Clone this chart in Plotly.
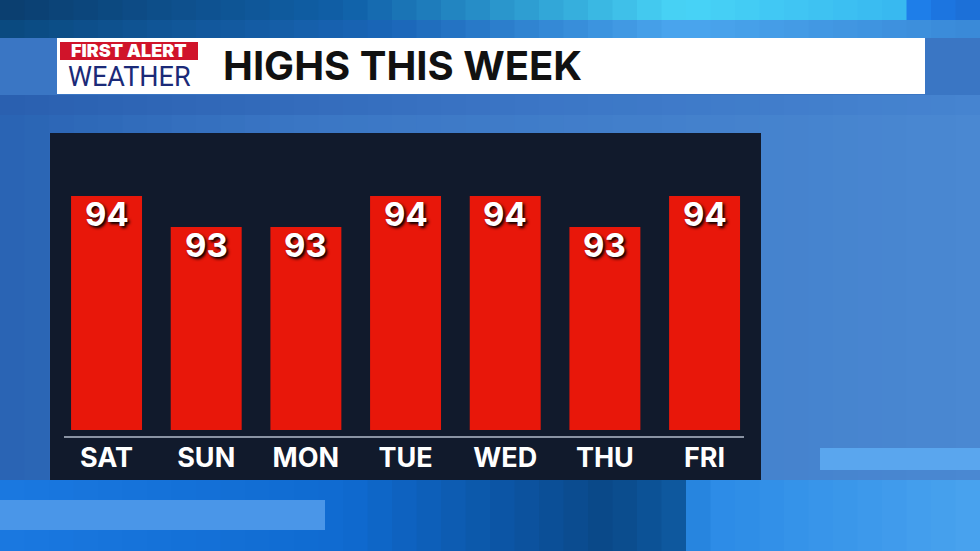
import plotly.graph_objects as go

# données
days = ['SAT', 'SUN', 'MON', 'TUE', 'WED', 'THU', 'FRI']
highs = [94, 93, 93, 94, 94, 93, 94]

W, H = 980, 551


def px_x(v):
    return v / W


def px_y(v):
    return (H - v) / H


def rect(x0, y0, x1, y1, color, layer='below'):
    return dict(type='rect', xref='paper', yref='paper',
                x0=px_x(x0), x1=px_x(x1), y0=px_y(y1), y1=px_y(y0),
                fillcolor=color, line_width=0, layer=layer)


def lerp_color(c1, c2, t):
    a = [int(c1[i:i + 2], 16) for i in (1, 3, 5)]
    b = [int(c2[i:i + 2], 16) for i in (1, 3, 5)]
    return '#' + ''.join('%02x' % round(a[k] + (b[k] - a[k]) * t) for k in range(3))


def gradient(x0, x1, y0, y1, stops, n=40):
    out = []
    step = (x1 - x0) / n
    for i in range(n):
        t = i / (n - 1)
        for j in range(len(stops) - 1):
            if stops[j][0] <= t <= stops[j + 1][0]:
                lt = (t - stops[j][0]) / (stops[j + 1][0] - stops[j][0])
                col = lerp_color(stops[j][1], stops[j + 1][1], lt)
                break
        out.append(rect(x0 + i * step, y0, x0 + (i + 1) * step + 0.6, y1, col))
    return out


shapes = []
# fond ciel
shapes += gradient(0, W, 95, 480, [(0, '#2a64b4'), (0.3, '#3a76c4'), (1, '#4a88d2')])
shapes += gradient(0, W, 95, 115, [(0, '#2a60b0'), (0.5, '#3a74c4'), (1, '#4684d0')])
# bande du haut
shapes += gradient(0, W, 0, 38, [(0, '#0b3f70'), (0.35, '#1060a8'), (0.7, '#48d4f6'),
                                 (0.93, '#38b8f0'), (0.95, '#1c7ae8'), (1, '#1c70d8')])
shapes += gradient(0, W, 20, 38, [(0, '#0a4a80'), (0.4, '#1a66b8'), (0.7, '#4aa6ee'),
                                  (1, '#3a8ad8')])
# bande du bas
shapes += gradient(0, W, 480, H, [(0, '#1a78e0'), (0.35, '#0f6ad0'), (0.62, '#0a4888'),
                                  (0.7, '#0e5aa0'), (0.72, '#2a8ae6'), (1, '#48a2ee')])
shapes.append(rect(0, 500, 325, 530, '#4a96e8'))
shapes.append(rect(820, 448, 980, 470, '#5aa6ee'))
# bandeau titre
shapes.append(rect(57, 38, 925, 94, '#ffffff'))
shapes.append(rect(60, 42, 198, 60, '#d0142a'))
# panneau sombre
shapes.append(rect(50, 133, 761, 480, '#111a2c'))
# ligne de base
shapes.append(dict(type='line', xref='paper', yref='paper',
                   x0=px_x(64), x1=px_x(744), y0=px_y(437), y1=px_y(437),
                   line=dict(color='#8a93a3', width=2), layer='below'))

fig = go.Figure()
fig.add_trace(go.Bar(
    x=days,
    y=highs,
    marker=dict(color='#e8170a', line_width=0),
    hoverinfo='skip',
))

# valeurs en haut des barres
annotations = [
    dict(x=d, y=v, xref='x', yref='y', text=str(v), showarrow=False,
         yanchor='middle', yshift=-18,
         font=dict(family='Inter', size=33, color='white', weight='bold',
                   shadow='2px 2px 3px #000000'))
    for d, v in zip(days, highs)
]
annotations += [
    dict(text='FIRST ALERT', xref='paper', yref='paper', x=px_x(129), y=px_y(50),
         showarrow=False, xanchor='center', yanchor='middle',
         font=dict(family='Inter', size=18, color='white', weight=900)),
    dict(text='WEATHER', xref='paper', yref='paper', x=px_x(129), y=px_y(77),
         showarrow=False, xanchor='center', yanchor='middle',
         font=dict(family='Roboto', size=27, color='#1b2a78')),
    dict(text='HIGHS THIS WEEK', xref='paper', yref='paper', x=px_x(221), y=px_y(66),
         showarrow=False, xanchor='left', yanchor='middle',
         font=dict(family='Inter', size=40, color='#111111', weight='bold')),
]

fig.update_layout(
    width=W, height=H,
    margin=dict(l=0, r=0, t=0, b=0),
    paper_bgcolor='#3a76c4',
    plot_bgcolor='rgba(0,0,0,0)',
    showlegend=False,
    bargap=0.288,
    shapes=shapes,
    annotations=annotations,
    xaxis=dict(domain=[px_x(56.7), px_x(754.4)], range=[-0.5, 6.5],
               showgrid=False, zeroline=False, showline=False, ticks='',
               ticklabelstandoff=9, fixedrange=True,
               tickfont=dict(family='Inter', size=27, color='white', weight='bold')),
    yaxis=dict(domain=[px_y(430), px_y(133)], range=[86.45, 96.03],
               visible=False, fixedrange=True),
)

fig.write_html('out.html', config={'displayModeBar': False},
               post_script="document.body.style.margin='0';")
